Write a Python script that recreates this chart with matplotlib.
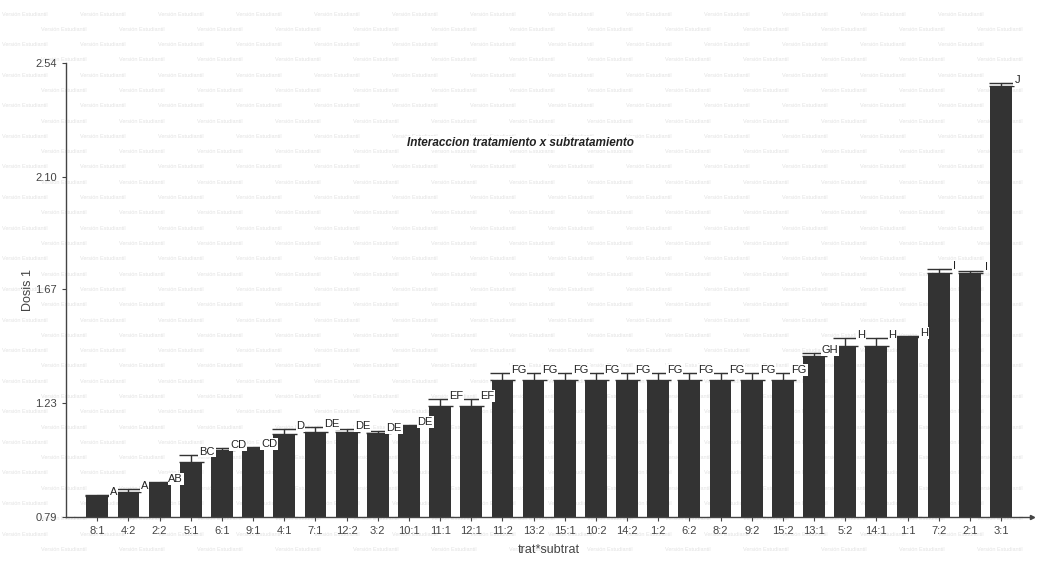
import matplotlib.pyplot as plt
import numpy as np

plt.rcParams['font.family'] = ['Liberation Sans Narrow', 'Liberation Sans', 'DejaVu Sans']

# treatment*subtreatment combinations, sorted by mean
groups = ['8:1', '4:2', '2:2', '5:1', '6:1', '9:1', '4:1', '7:1', '12:2', '3:2',
          '10:1', '11:1', '12:1', '11:2', '13:2', '15:1', '10:2', '14:2', '1:2', '6:2',
          '8:2', '9:2', '15:2', '13:1', '5:2', '14:1', '1:1', '7:2', '2:1', '3:1']
means = [0.87, 0.886, 0.92, 1.00, 1.05, 1.056, 1.11, 1.118, 1.118, 1.115,
         1.14, 1.218, 1.218, 1.318, 1.318, 1.318, 1.318, 1.318, 1.318, 1.318,
         1.318, 1.318, 1.318, 1.41, 1.449, 1.449, 1.484, 1.73, 1.73, 2.45]
errs = [0.005, 0.01, 0.005, 0.03, 0.004, 0.004, 0.02, 0.017, 0.012, 0.005,
        0.004, 0.027, 0.027, 0.028, 0.028, 0.028, 0.028, 0.028, 0.028, 0.028,
        0.028, 0.028, 0.028, 0.013, 0.03, 0.03, 0.004, 0.017, 0.01, 0.013]
letters = ['A', 'A', 'AB', 'BC', 'CD', 'CD', 'D', 'DE', 'DE', 'DE',
           'DE', 'EF', 'EF', 'FG', 'FG', 'FG', 'FG', 'FG', 'FG', 'FG',
           'FG', 'FG', 'FG', 'GH', 'H', 'H', 'H', 'I', 'I', 'J']
yticks = [0.79, 1.23, 1.67, 2.10, 2.54]
watermark = 'Versión Estudiantil'

fig = plt.figure(figsize=(10.5, 5.65), dpi=100)

# faint student-version watermark behind everything
W, H = 1050, 565
for r, py in enumerate(np.arange(14, H - 4, 15.3)):
    px = 2 if r % 2 == 0 else 41
    while px + 52 < W:
        fig.text(px / W, 1 - py / H, watermark, fontsize=4, color='#e2e2e2',
                 ha='left', va='center', zorder=-1)
        px += 78

ax = fig.add_axes([0.063, 0.085, 0.92, 0.8035])
ax.set_facecolor('none')

x = np.arange(len(groups))
ax.bar(x, means, width=0.7, color='#333333', zorder=2)
ax.errorbar(x, means, yerr=[np.zeros(len(errs)), errs], fmt='none',
            ecolor='#333333', elinewidth=1, capsize=9, capthick=1, zorder=3)

# letters of the mean comparison test, with a short leader line
for xi, m, e, lab in zip(x, means, errs, letters):
    top = m + e
    ax.plot([xi, xi + 0.35], [top, top], color='#333333', lw=0.8, zorder=3)
    ax.text(xi + 0.52, top + 0.012, lab, fontsize=8, color='#222222',
            ha='center', va='center', zorder=4,
            bbox=dict(boxstyle='square,pad=0.08', fc='white', ec='none'))

ax.set_xlim(-1, 30)
ax.set_ylim(0.79, 2.54)
ax.set_yticks(yticks)
ax.set_yticklabels(['0.79', '1.23', '1.67', '2.10', '2.54'], fontsize=8, color='#444444')
ax.set_xticks(x)
ax.set_xticklabels(groups, fontsize=8, color='#444444')
ax.tick_params(axis='both', length=3, color='#444444', width=0.8)

for s in ['top', 'right']:
    ax.spines[s].set_visible(False)
for s in ['left', 'bottom']:
    ax.spines[s].set_color('#444444')
    ax.spines[s].set_linewidth(1.0)
ax.plot(1, 0, '>', color='#444444', markersize=3, transform=ax.transAxes, clip_on=False)

ax.set_ylabel('Dosis 1', fontsize=9, color='#444444', labelpad=1)
ax.set_xlabel('trat*subtrat', fontsize=9, color='#444444', labelpad=6)
ax.text(0.47, 0.824, 'Interaccion tratamiento x subtratamiento', transform=ax.transAxes,
        fontsize=8.5, style='italic', fontweight='bold', color='#222222',
        ha='center', va='center',
        bbox=dict(boxstyle='square,pad=0.1', fc='white', ec='none'))

fig.savefig('out.png', dpi=100)
